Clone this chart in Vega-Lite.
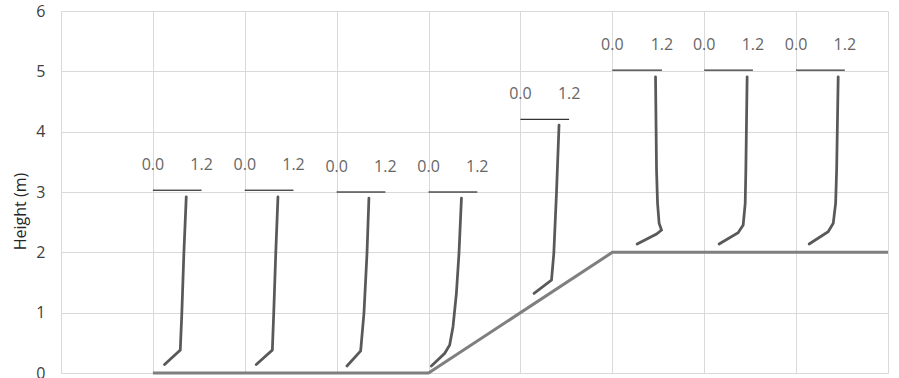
{
  "$schema": "https://vega.github.io/schema/vega-lite/v6.json",
  "autosize": {"type": "none"},
  "padding": {"left": 61, "top": 11, "right": 11, "bottom": 5},
  "width": 827,
  "height": 362,
  "background": "white",
  "config": {
    "view": {"stroke": null},
    "font": "Open Sans",
    "axis": {"gridColor": "#d9d9d9", "gridWidth": 1, "domain": false, "ticks": false}
  },
  "datasets": {
    "ground": [
      {"x": 1, "y": 0},
      {"x": 4, "y": 0},
      {"x": 6, "y": 2},
      {"x": 9, "y": 2}
    ],
    "profiles": [
      {"s": 1, "i": 0, "x": 1.363, "y": 2.92},
      {"s": 1, "i": 1, "x": 1.337, "y": 1.98},
      {"s": 1, "i": 2, "x": 1.315, "y": 0.99},
      {"s": 1, "i": 3, "x": 1.298, "y": 0.38},
      {"s": 1, "i": 4, "x": 1.127, "y": 0.14},
      {"s": 2, "i": 0, "x": 2.361, "y": 2.92},
      {"s": 2, "i": 1, "x": 2.337, "y": 1.98},
      {"s": 2, "i": 2, "x": 2.315, "y": 0.99},
      {"s": 2, "i": 3, "x": 2.300, "y": 0.38},
      {"s": 2, "i": 4, "x": 2.125, "y": 0.14},
      {"s": 3, "i": 0, "x": 3.351, "y": 2.90},
      {"s": 3, "i": 1, "x": 3.330, "y": 1.98},
      {"s": 3, "i": 2, "x": 3.297, "y": 0.99},
      {"s": 3, "i": 3, "x": 3.261, "y": 0.365},
      {"s": 3, "i": 4, "x": 3.112, "y": 0.116},
      {"s": 4, "i": 0, "x": 4.358, "y": 2.90},
      {"s": 4, "i": 1, "x": 4.331, "y": 1.98},
      {"s": 4, "i": 2, "x": 4.303, "y": 1.32},
      {"s": 4, "i": 3, "x": 4.266, "y": 0.767},
      {"s": 4, "i": 4, "x": 4.230, "y": 0.464},
      {"s": 4, "i": 5, "x": 4.176, "y": 0.327},
      {"s": 4, "i": 6, "x": 4.031, "y": 0.116},
      {"s": 5, "i": 0, "x": 5.420, "y": 4.11},
      {"s": 5, "i": 1, "x": 5.392, "y": 2.98},
      {"s": 5, "i": 2, "x": 5.363, "y": 1.98},
      {"s": 5, "i": 3, "x": 5.338, "y": 1.54},
      {"s": 5, "i": 4, "x": 5.148, "y": 1.32},
      {"s": 6, "i": 0, "x": 6.470, "y": 4.91},
      {"s": 6, "i": 1, "x": 6.481, "y": 3.365},
      {"s": 6, "i": 2, "x": 6.492, "y": 2.813},
      {"s": 6, "i": 3, "x": 6.509, "y": 2.481},
      {"s": 6, "i": 4, "x": 6.535, "y": 2.37},
      {"s": 6, "i": 5, "x": 6.481, "y": 2.304},
      {"s": 6, "i": 6, "x": 6.270, "y": 2.138},
      {"s": 7, "i": 0, "x": 7.467, "y": 4.91},
      {"s": 7, "i": 1, "x": 7.453, "y": 3.365},
      {"s": 7, "i": 2, "x": 7.446, "y": 2.813},
      {"s": 7, "i": 3, "x": 7.424, "y": 2.453},
      {"s": 7, "i": 4, "x": 7.369, "y": 2.326},
      {"s": 7, "i": 5, "x": 7.162, "y": 2.138},
      {"s": 8, "i": 0, "x": 8.458, "y": 4.91},
      {"s": 8, "i": 1, "x": 8.441, "y": 3.365},
      {"s": 8, "i": 2, "x": 8.430, "y": 2.813},
      {"s": 8, "i": 3, "x": 8.404, "y": 2.481},
      {"s": 8, "i": 4, "x": 8.349, "y": 2.342},
      {"s": 8, "i": 5, "x": 8.142, "y": 2.138}
    ],
    "bars": [
      {"s": 1, "x0": 1, "x1": 1.53, "y": 3.03},
      {"s": 2, "x0": 2, "x1": 2.53, "y": 3.03},
      {"s": 3, "x0": 3, "x1": 3.53, "y": 3.0},
      {"s": 4, "x0": 4, "x1": 4.53, "y": 3.0},
      {"s": 5, "x0": 5, "x1": 5.53, "y": 4.205},
      {"s": 6, "x0": 6, "x1": 6.54, "y": 5.02},
      {"s": 7, "x0": 7, "x1": 7.53, "y": 5.02},
      {"s": 8, "x0": 8, "x1": 8.53, "y": 5.02}
    ]
  },
  "encoding": {
    "x": {"type": "quantitative", "scale": {"domain": [0, 9], "nice": false, "zero": false}},
    "y": {"type": "quantitative", "scale": {"domain": [0, 6], "nice": false}}
  },
  "layer": [
    {
      "data": {"name": "ground"},
      "mark": {"type": "line", "color": "#7f7f7f", "strokeWidth": 3},
      "encoding": {
        "x": {"field": "x", "type": "quantitative",
          "axis": {"values": [0,1,2,3,4,5,6,7,8,9], "labels": false, "title": null, "grid": true}},
        "y": {"field": "y", "type": "quantitative",
          "axis": {"values": [0,1,2,3,4,5,6], "format": "d", "title": "Height (m)", "labelFontSize": 16, "labelColor": "#404040",
            "labelPadding": 16, "titleFontSize": 16, "titleColor": "#262626", "titleFontWeight": "normal",
            "titleX": -41, "titleY": 200, "titleBaseline": "middle", "titleAlign": "center", "titleAngle": 270}}
      }
    },
    {
      "data": {"name": "profiles"},
      "mark": {"type": "line", "color": "#595959", "strokeWidth": 2.75, "strokeCap": "round"},
      "encoding": {
        "x": {"field": "x", "type": "quantitative"},
        "y": {"field": "y", "type": "quantitative"},
        "detail": {"field": "s"},
        "order": {"field": "i", "type": "quantitative"}
      }
    },
    {
      "data": {"name": "bars"},
      "mark": {"type": "rule", "color": "#000000", "strokeWidth": 1},
      "encoding": {
        "x": {"field": "x0", "type": "quantitative"},
        "x2": {"field": "x1"},
        "y": {"field": "y", "type": "quantitative"}
      }
    },
    {
      "data": {"name": "bars"},
      "mark": {"type": "text", "fontSize": 16, "color": "#666666", "baseline": "middle", "align": "center", "dy": -25},
      "encoding": {
        "x": {"field": "x0", "type": "quantitative"},
        "y": {"field": "y", "type": "quantitative"},
        "text": {"value": "0.0"}
      }
    },
    {
      "data": {"name": "bars"},
      "mark": {"type": "text", "fontSize": 16, "color": "#666666", "baseline": "middle", "align": "center", "dy": -25},
      "encoding": {
        "x": {"field": "x1", "type": "quantitative"},
        "y": {"field": "y", "type": "quantitative"},
        "text": {"value": "1.2"}
      }
    }
  ]
}
